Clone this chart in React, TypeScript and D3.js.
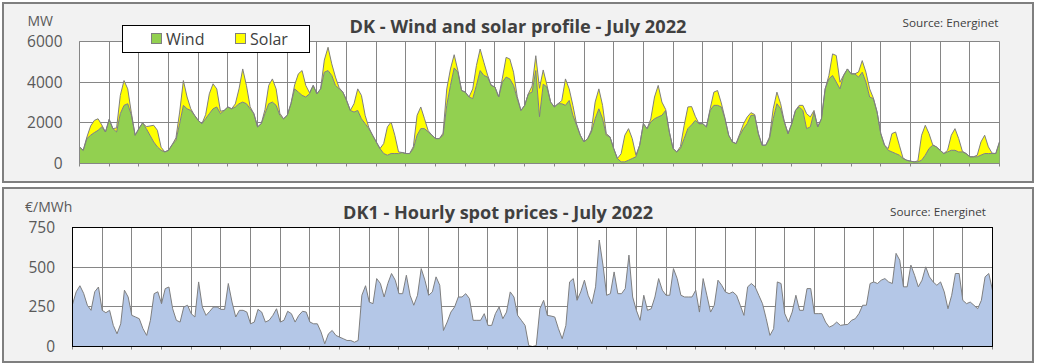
import React from 'react';
import * as d3 from 'd3';

// ---- Data (3-hourly samples: hours 0,3,6,...,21 of each day of July 2022) ----
const days: string[] = d3.range(1, 32).map((d) => `${d}`);

const wind: number[][] = [
  [816, 650, 1225, 1390, 1520, 1630, 1800, 1550],
  [2170, 1715, 1550, 2450, 2860, 2940, 2370, 1390],
  [1715, 2000, 1715, 1390, 1060, 816, 650, 570],
  [650, 930, 1140, 1960, 2860, 2690, 2610, 2370],
  [2120, 1960, 2200, 2450, 2690, 2780, 2450, 2610],
  [2780, 2690, 2780, 2940, 3020, 2940, 2690, 2450],
  [1800, 1960, 2450, 2940, 3020, 2860, 2370, 2200],
  [2370, 2940, 3670, 3510, 3350, 3270, 3430, 3840],
  [3430, 3670, 4490, 4570, 4330, 3840, 3670, 3510],
  [3100, 2610, 2530, 2610, 2200, 1960, 1715, 1390],
  [1060, 735, 490, 410, 490, 490, 490, 540],
  [490, 490, 735, 1390, 1715, 1715, 1550, 1390],
  [1225, 1225, 1390, 2860, 3840, 4700, 4490, 3590],
  [3510, 3270, 3190, 3840, 4570, 4330, 4250, 3840],
  [3760, 3270, 4000, 4250, 4160, 3840, 3190, 2610],
  [2860, 3430, 3510, 4570, 2300, 3900, 3760, 3020],
  [2780, 2940, 2940, 2860, 3100, 2370, 1880, 1390],
  [1060, 1225, 1550, 2200, 2690, 2200, 1390, 1310],
  [735, 245, 80, 80, 160, 245, 330, 900],
  [1960, 1715, 2040, 2200, 2290, 2370, 2610, 1550],
  [735, 570, 735, 1225, 1715, 1900, 2120, 1960],
  [1960, 1800, 2610, 2860, 2860, 2780, 2200, 1390],
  [1060, 980, 1390, 1715, 1960, 2370, 2370, 1470],
  [900, 900, 1225, 2200, 2940, 2690, 2040, 1470],
  [1960, 2610, 2780, 2610, 1715, 1800, 2530, 1800],
  [2200, 3670, 4160, 4330, 4000, 3670, 4330, 4650],
  [4410, 4410, 4250, 4490, 4000, 3270, 3190, 2530],
  [1470, 900, 650, 570, 490, 410, 245, 160],
  [115, 80, 80, 160, 410, 735, 900, 816],
  [650, 490, 570, 650, 650, 570, 570, 490],
  [330, 330, 330, 410, 490, 490, 490, 490],
];
const windEnd = 1060;

const solar: number[][] = [
  [0, 0, 80, 455, 600, 570, 100, 0],
  [0, 0, 200, 900, 1220, 730, 100, 0],
  [0, 0, 100, 455, 820, 815, 150, 0],
  [0, 0, 120, 570, 1220, 580, 80, 0],
  [0, 0, 200, 980, 1230, 890, 120, 0],
  [0, 0, 150, 730, 1630, 900, 100, 0],
  [0, 0, 200, 900, 1140, 810, 100, 0],
  [0, 0, 200, 900, 1220, 570, 50, 0],
  [0, 0, 600, 1145, 570, 410, 50, 0],
  [0, 0, 410, 1060, 1150, 410, 50, 0],
  [0, 0, 490, 1390, 1550, 900, 80, 0],
  [0, 0, 100, 980, 1065, 485, 60, 0],
  [0, 0, 100, 810, 810, 650, 80, 0],
  [0, 0, 480, 980, 1060, 650, 100, 0],
  [0, 0, 200, 970, 980, 650, 100, 0],
  [0, 0, 300, 730, 1400, 700, 100, 0],
  [0, 0, 150, 1300, 570, 490, 60, 0],
  [0, 0, 100, 820, 980, 660, 80, 0],
  [0, 0, 400, 1310, 1555, 980, 80, 0],
  [0, 0, 150, 1070, 1550, 650, 50, 0],
  [0, 0, 100, 655, 1065, 900, 200, 0],
  [0, 0, 80, 650, 730, 200, 30, 0],
  [0, 0, 80, 245, 330, 130, 40, 0],
  [0, 0, 80, 490, 570, 250, 20, 0],
  [0, 0, 80, 250, 735, 490, 80, 0],
  [0, 0, 160, 1060, 1310, 330, 20, 0],
  [0, 0, 250, 570, 490, 400, 30, 0],
  [0, 0, 80, 900, 1060, 490, 20, 0],
  [0, 0, 50, 1230, 1470, 735, 20, 0],
  [0, 0, 80, 740, 1065, 655, 30, 0],
  [0, 0, 80, 650, 900, 330, 20, 0],
];
const solarEnd = 0;

const price: number[][] = [
  [265, 345, 383, 335, 260, 228, 345, 375],
  [228, 213, 228, 133, 80, 143, 355, 312],
  [196, 186, 175, 112, 70, 165, 333, 345],
  [270, 365, 375, 238, 165, 154, 249, 260],
  [207, 186, 407, 249, 196, 222, 249, 249],
  [234, 234, 397, 280, 186, 228, 228, 217],
  [143, 154, 234, 217, 154, 165, 196, 238],
  [154, 165, 222, 207, 154, 196, 222, 217],
  [154, 143, 143, 91, 17, 80, 101, 70],
  [59, 49, 38, 38, 27, 38, 323, 383],
  [280, 270, 428, 397, 312, 397, 460, 418],
  [333, 333, 449, 323, 260, 323, 491, 418],
  [323, 344, 439, 386, 101, 154, 217, 249],
  [312, 312, 333, 302, 165, 165, 165, 207],
  [133, 133, 207, 249, 175, 217, 344, 312],
  [196, 165, 133, 6, 0, 6, 238, 291],
  [196, 192, 186, 112, 49, 133, 407, 428],
  [291, 344, 418, 323, 270, 376, 671, 513],
  [323, 333, 470, 333, 333, 365, 576, 312],
  [228, 165, 323, 228, 238, 312, 428, 355],
  [323, 323, 491, 428, 323, 312, 312, 312],
  [355, 217, 428, 323, 217, 260, 418, 386],
  [344, 333, 344, 323, 260, 196, 376, 397],
  [376, 323, 270, 175, 70, 112, 407, 397],
  [207, 154, 217, 323, 228, 228, 365, 365],
  [207, 207, 207, 154, 122, 133, 154, 133],
  [137, 139, 165, 175, 207, 260, 260, 397],
  [407, 397, 418, 428, 407, 397, 587, 544],
  [376, 376, 513, 449, 376, 418, 502, 439],
  [407, 386, 407, 344, 238, 323, 460, 460],
  [291, 270, 280, 260, 238, 291, 439, 460],
];
const priceEnd = 355;

const mwTicks = [0, 2000, 4000, 6000];
const priceTicks = [0, 250, 500, 750];

const STEP_HOURS = 3;
const HOURS_IN_MONTH = days.length * 24;

const FONT = "'Open Sans', 'Noto Sans', sans-serif";
const TEXT_DARK = '#404040';
const TEXT_GRAY = '#595959';
const GRID = '#868686';

type Pt = { h: number; w: number; s: number };

export default function App() {
  const windFlat = [...wind.flat(), windEnd];
  const solarFlat = [...solar.flat(), solarEnd];
  const priceFlat = [...price.flat(), priceEnd];
  const pts: Pt[] = windFlat.map((w, i) => ({ h: i * STEP_HOURS, w, s: solarFlat[i] }));
  const ppts = priceFlat.map((p, i) => ({ h: i * STEP_HOURS, p }));
  const dayHours = d3.range(0, days.length + 1).map((d) => d * 24);

  // Top chart scales
  const xT = d3.scaleLinear().domain([0, HOURS_IN_MONTH]).range([79.5, 999.5]);
  const yT = d3.scaleLinear().domain([0, 6000]).range([163.5, 41.5]);
  // Bottom chart scales
  const xB = d3.scaleLinear().domain([0, HOURS_IN_MONTH]).range([72.5, 992.5]);
  const yB = d3.scaleLinear().domain([0, 750]).range([346.5, 227.5]);

  const crisp = (v: number) => Math.round(v - 0.5) + 0.5;

  const windArea = d3.area<Pt>().x((d) => xT(d.h)).y0(yT(0)).y1((d) => yT(d.w));
  const solarArea = d3.area<Pt>().x((d) => xT(d.h)).y0((d) => yT(d.w)).y1((d) => yT(d.w + d.s));
  const windLine = d3.line<Pt>().x((d) => xT(d.h)).y((d) => yT(d.w));
  const totalLine = d3.line<Pt>().x((d) => xT(d.h)).y((d) => yT(d.w + d.s));

  const priceArea = d3
    .area<{ h: number; p: number }>()
    .x((d) => xB(d.h))
    .y0(yB(0))
    .y1((d) => yB(d.p));
  const priceLine = d3
    .line<{ h: number; p: number }>()
    .x((d) => xB(d.h))
    .y((d) => yB(d.p));

  return (
    <svg
      width={1037}
      height={364}
      style={{ position: 'absolute', left: 0, top: 0, fontFamily: FONT }}
    >
      <rect x={0} y={0} width={1037} height={364} fill="#ffffff" />

      {/* ---------- TOP PANEL ---------- */}
      <rect x={3} y={3} width={1030} height={179} fill="#f2f2f2" stroke="#7f7f7f" strokeWidth={2} />
      <rect x={xT(0)} y={yT(6000)} width={xT(HOURS_IN_MONTH) - xT(0)} height={yT(0) - yT(6000)} fill="#ffffff" />
      {mwTicks.map((t) => (
        <line key={'gt' + t} x1={xT(0)} x2={xT(HOURS_IN_MONTH)} y1={crisp(yT(t))} y2={crisp(yT(t))} stroke={GRID} strokeWidth={1} />
      ))}
      {dayHours.map((h) => (
        <line key={'vt' + h} x1={crisp(xT(h))} x2={crisp(xT(h))} y1={yT(6000)} y2={yT(0) + 3} stroke={GRID} strokeWidth={1} />
      ))}
      <path d={solarArea(pts) || ''} fill="#ffff00" />
      <path d={windArea(pts) || ''} fill="#92d050" />
      <path d={totalLine(pts) || ''} fill="none" stroke="#7f7f7f" strokeWidth={1} />
      <path d={windLine(pts) || ''} fill="none" stroke="#7f7f7f" strokeWidth={1} />
      <line x1={xT(0)} x2={xT(HOURS_IN_MONTH)} y1={yT(0)} y2={yT(0)} stroke={GRID} strokeWidth={1} />
      <line x1={xT(0)} x2={xT(0)} y1={yT(6000)} y2={yT(0)} stroke={GRID} strokeWidth={1} />
      {mwTicks.map((t) => (
        <text key={'lt' + t} x={62.5} y={yT(t)} dy="0.36em" textAnchor="end" fontSize={15.5} fill={TEXT_GRAY}>
          {t}
        </text>
      ))}
      <text x={27.5} y={20.5} dy="0.36em" fontSize={14} fill={TEXT_GRAY}>MW</text>
      <text x={518} y={26.5} dy="0.36em" textAnchor="middle" fontSize={17} fontWeight="bold" fill={TEXT_DARK} textLength={337} lengthAdjust="spacingAndGlyphs">
        DK - Wind and solar profile - July 2022
      </text>
      <text x={998.5} y={23.5} dy="0.36em" textAnchor="end" fontSize={11} fill={TEXT_DARK} textLength={96} lengthAdjust="spacingAndGlyphs">
        Source: Energinet
      </text>
      {/* legend */}
      <rect x={122.5} y={25.5} width={187} height={27} fill="#ffffff" stroke="#000000" strokeWidth={1} />
      <rect x={151.5} y={33.5} width={10} height={10} fill="#92d050" stroke="#7f7f7f" strokeWidth={1} />
      <text x={166} y={39} dy="0.36em" fontSize={16} fill={TEXT_DARK}>Wind</text>
      <rect x={235.5} y={33.5} width={10} height={10} fill="#ffff00" stroke="#7f7f7f" strokeWidth={1} />
      <text x={250} y={39} dy="0.36em" fontSize={16} fill={TEXT_DARK}>Solar</text>

      {/* ---------- BOTTOM PANEL ---------- */}
      <rect x={3} y={188} width={1030} height={174} fill="#f2f2f2" stroke="#7f7f7f" strokeWidth={2} />
      <rect x={xB(0)} y={yB(750)} width={xB(HOURS_IN_MONTH) - xB(0)} height={yB(0) - yB(750)} fill="#ffffff" />
      {priceTicks.map((t) => (
        <line key={'gb' + t} x1={xB(0)} x2={xB(HOURS_IN_MONTH)} y1={crisp(yB(t))} y2={crisp(yB(t))} stroke={GRID} strokeWidth={1} />
      ))}
      {dayHours.map((h) => (
        <line key={'vb' + h} x1={crisp(xB(h))} x2={crisp(xB(h))} y1={yB(750)} y2={yB(0) + 3} stroke={GRID} strokeWidth={1} />
      ))}
      <path d={priceArea(ppts) || ''} fill="#b4c7e7" />
      <path d={priceLine(ppts) || ''} fill="none" stroke="#7f7f7f" strokeWidth={1} />
      <rect x={xB(0)} y={yB(750)} width={xB(HOURS_IN_MONTH) - xB(0)} height={yB(0) - yB(750)} fill="none" stroke="#000000" strokeWidth={1} />
      {priceTicks.map((t) => (
        <text key={'lb' + t} x={55} y={yB(t)} dy="0.36em" textAnchor="end" fontSize={15.5} fill={TEXT_GRAY}>
          {t}
        </text>
      ))}
      <text x={25} y={206.5} dy="0.36em" fontSize={14} fill={TEXT_GRAY}>€/MWh</text>
      <text x={498} y={212.5} dy="0.36em" textAnchor="middle" fontSize={17} fontWeight="bold" fill={TEXT_DARK} textLength={310} lengthAdjust="spacingAndGlyphs">
        DK1 - Hourly spot prices - July 2022
      </text>
      <text x={986} y={212.5} dy="0.36em" textAnchor="end" fontSize={11} fill={TEXT_DARK} textLength={96} lengthAdjust="spacingAndGlyphs">
        Source: Energinet
      </text>
    </svg>
  );
}
